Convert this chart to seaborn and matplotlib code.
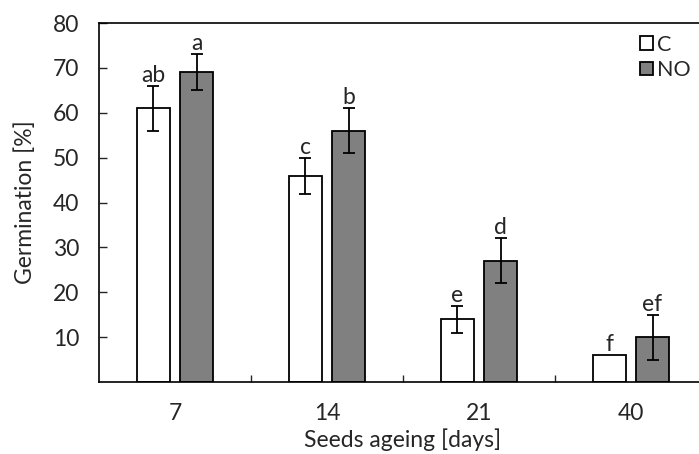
import pandas as pd
import numpy as np
import matplotlib
matplotlib.use("Agg")
import matplotlib.pyplot as plt
import seaborn as sns

# data
days = ["7", "14", "21", "40"]
control = [61, 46, 14, 6]
control_err = [5, 4, 3, 0]
no_treat = [69, 56, 27, 10]
no_err = [4, 5, 5, 5]
control_letters = ["ab", "c", "e", "f"]
no_letters = ["a", "b", "d", "ef"]

df = pd.DataFrame({
    "days": days * 2,
    "germination": control + no_treat,
    "group": ["C"] * 4 + ["NO"] * 4,
})

sns.set_style("white")
plt.rcParams["font.family"] = ["Lato", "DejaVu Sans"]
fs = 16.5

fig = plt.figure(figsize=(6.99, 4.54), dpi=100)
ax = fig.add_axes([99 / 699, 72 / 454, 608 / 699, 359 / 454])

sns.barplot(data=df, x="days", y="germination", hue="group", order=days,
            palette={"C": "white", "NO": "#808080"}, width=0.566, gap=0.21,
            edgecolor="black", linewidth=1.3, errorbar=None, ax=ax)

# error bars and significance letters
errs = [control_err, no_err]
letters = [control_letters, no_letters]
bar_groups = list(ax.containers)[:2]
for k, cont in enumerate(bar_groups):
    for i, bar in enumerate(cont.patches):
        xc = bar.get_x() + bar.get_width() / 2
        h = bar.get_height()
        e = errs[k][i]
        if e > 0:
            ax.errorbar(xc, h, yerr=e, fmt="none", ecolor="black",
                        elinewidth=1.3, capsize=4.5, capthick=1.3)
        ax.annotate(letters[k][i], (xc, h + e), xytext=(0, 0),
                    textcoords="offset points", ha="center", va="bottom",
                    fontsize=fs)

ax.set_xlim(-0.5, 3.5)
ax.set_ylim(0, 80)
ax.set_yticks(np.arange(10, 81, 10))
ax.tick_params(axis="y", direction="in", length=6, width=1, pad=14,
               labelsize=fs, left=True)
ax.tick_params(axis="x", which="major", length=0, pad=15, labelsize=fs)
ax.set_xticks([0.5, 1.5, 2.5], minor=True)
ax.tick_params(axis="x", which="minor", direction="in", length=5, width=1,
               bottom=True)

for s in ax.spines.values():
    s.set_color("black")
    s.set_linewidth(1.2)

ax.set_xlabel("Seeds ageing [days]", fontsize=fs, labelpad=3)
ax.set_ylabel("Germination [%]", fontsize=fs, labelpad=12)

ax.legend(loc="upper left", bbox_to_anchor=(529 / 608, 1.0), frameon=False,
          fontsize=15.5, handlelength=0.6, handleheight=0.6, handletextpad=0.2,
          labelspacing=0.25, borderaxespad=0.15)

fig.savefig("out.png", dpi=100)
